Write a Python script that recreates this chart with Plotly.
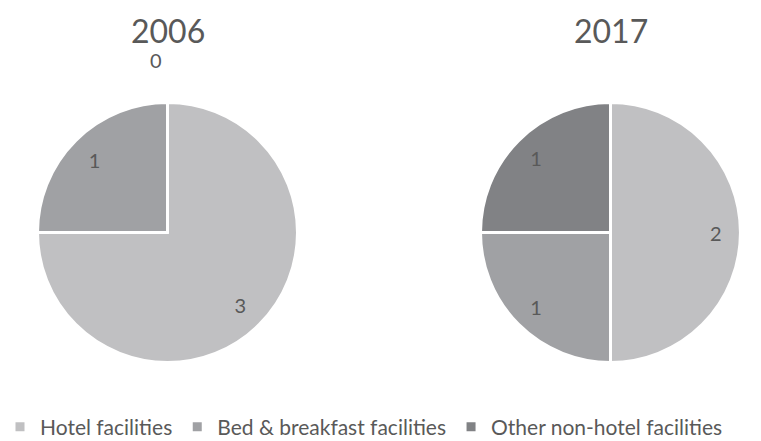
import plotly.graph_objects as go

categories = ["Hotel facilities", "Bed & breakfast facilities", "Other non-hotel facilities"]
values_2006 = [3, 1, 0]
values_2017 = [2, 1, 1]
years = ["2006", "2017"]
colors = ["#c0c0c2", "#a0a1a4", "#818285"]

FONT = "Lato"
TXT = "#595959"
W, H = 761, 441


def dom(cx, cy, half):
    return dict(x=[(cx - half) / W, (cx + half) / W],
                y=[1 - (cy + half) / H, 1 - (cy - half) / H])


fig = go.Figure()
centers = [(167.5, 232.5), (610.5, 232.5)]
# (label-ring half size, hole) per pie: the 2006 ring is larger so its
# outside "0" label sits higher above the pie, as in the reference
label_rings = [(161.0, 0.28), (130.0, 0.62)]

for vals, (cx, cy), (lh, hole), yr in zip([values_2006, values_2017], centers, label_rings, years):
    d = dom(cx, cy, 130.0)
    fig.add_trace(go.Pie(
        labels=categories,
        values=vals,
        textinfo="none",
        sort=False,
        direction="clockwise",
        rotation=0,
        domain=d,
        marker=dict(colors=colors, line=dict(color="white", width=3)),
        showlegend=(yr == "2006"),
        hoverinfo="label+value",
        name=yr,
    ))
    fig.add_trace(go.Pie(
        labels=categories,
        values=vals,
        text=[str(v) for v in vals],
        textinfo="text",
        textposition=["inside" if v > 0 else "outside" for v in vals],
        insidetextorientation="horizontal",
        hole=hole,
        sort=False,
        direction="clockwise",
        rotation=0,
        domain=dom(cx, cy, lh),
        marker=dict(colors=["rgba(0,0,0,0)"] * 3, line=dict(width=0)),
        textfont=dict(family=FONT, size=20, color=TXT),
        showlegend=False,
        hoverinfo="skip",
        name=yr + " labels",
    ))
    fig.add_annotation(x=cx / W, y=1 - 30 / H, xref="paper", yref="paper",
                       text=yr, showarrow=False, height=32, valign="middle",
                       font=dict(family=FONT, size=32, color=TXT),
                       xanchor="center", yanchor="middle")

fig.update_layout(
    width=W, height=H,
    margin=dict(l=0, r=0, t=0, b=0, autoexpand=False),
    paper_bgcolor="white",
    plot_bgcolor="white",
    font=dict(family=FONT, color=TXT),
    legend=dict(orientation="h", x=0, xanchor="left", y=1 - 427 / H, yanchor="middle",
                font=dict(family=FONT, size=21, color=TXT), itemwidth=30),
)
fig.write_html("out.html", config={"displayModeBar": False},
               post_script="document.body.style.margin='0';document.body.style.overflow='hidden';")
